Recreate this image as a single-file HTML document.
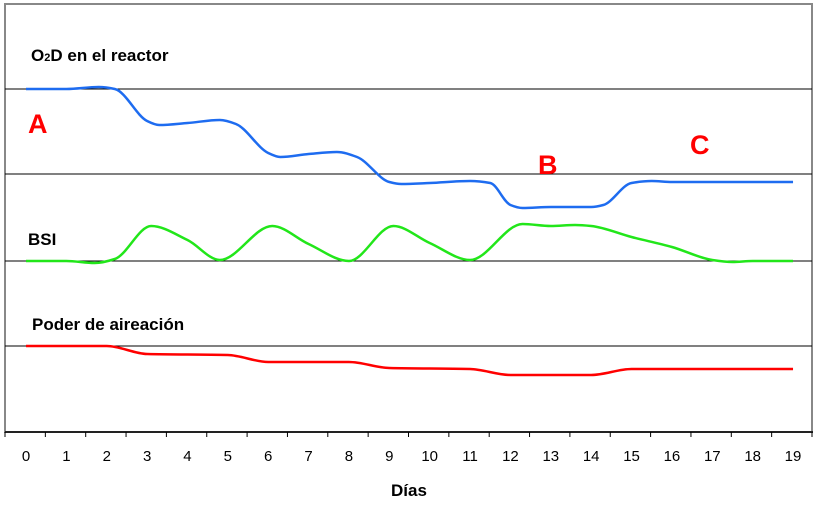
<!DOCTYPE html>
<html><head><meta charset="utf-8"><style>
body{margin:0;background:#fff}
svg text{font-family:"Liberation Sans",Arial,sans-serif}
</style></head><body>
<svg width="817" height="510">
<rect x="5" y="4" width="807" height="428" fill="#fff" stroke="#888" stroke-width="2"/>
<g id="refs"></g>
<g id="series"></g>
<g id="axis"></g>
<text x="31" y="61" font-size="17" font-weight="bold">O<tspan font-size="11">2</tspan>D en el reactor</text>
<text x="28" y="245" font-size="17" font-weight="bold">BSI</text>
<text x="32" y="330" font-size="17" font-weight="bold">Poder de aireación</text>
<text x="28" y="133" font-size="27" font-weight="bold" fill="#f00">A</text>
<text x="538" y="174" font-size="27" font-weight="bold" fill="#f00">B</text>
<text x="690" y="154" font-size="27" font-weight="bold" fill="#f00">C</text>
<text x="391" y="496" font-size="17" font-weight="bold">Días</text>
</svg>
<script>
const days=[0,1,2,3,4,5,6,7,8,9,10,11,12,13,14,15,16,17,18,19];
const o2dX=[0,1,1.8,2.2,3,3.3,4,4.8,5.2,6,6.3,7,7.7,8.2,9,9.3,10,11,11.5,12,12.3,13,14,14.3,15,15.5,16,19];
const o2dY=[89,89,87,89,121,125,123,120,124,153,157,154,152,157,182,184,183,181,183,205,208,207,207,205,183,181,182,182];
const bsiX=[0,1,1.7,2.2,3.1,4,4.8,6.1,7,8,9.1,10,11,12.3,13,13.6,14,15,16,17,17.5,18,19];
const bsiY=[261,261,263,259,226,240,260,226,244,261,226,243,260,224,226,225,226,237,247,260,262,261,261];
const airX=[0,2,3,5,6,8,9,11,12,14,15,19];
const airY=[346,346,354,355,362,362,368,369,375,375,369,369];
const refLines=[89,174,261,346];
const NS="http://www.w3.org/2000/svg";
const xS=d=>26+40.37*d;
const tickX=k=>5+40.35*k;
function path(xs,ys){
  const px=xs.map(xS),n=px.length;
  const del=[];for(let i=0;i<n-1;i++)del.push((ys[i+1]-ys[i])/(px[i+1]-px[i]));
  const m=[];
  for(let i=0;i<n;i++){
    if(i==0)m.push(0);else if(i==n-1)m.push(0);
    else{const a=del[i-1],b=del[i];m.push(a*b<=0?0:2*a*b/(a+b));}
  }
  let d=`M${px[0]},${ys[0]}`;
  for(let i=0;i<n-1;i++){
    const h=(px[i+1]-px[i])/3;
    d+=` C${px[i]+h},${ys[i]+m[i]*h} ${px[i+1]-h},${ys[i+1]-m[i+1]*h} ${px[i+1]},${ys[i+1]}`;
  }
  return d;
}
const refs=document.getElementById('refs');
refLines.forEach(y=>{
  const l=document.createElementNS(NS,'line');
  l.setAttribute('x1',5);l.setAttribute('x2',812);l.setAttribute('y1',y);l.setAttribute('y2',y);
  l.setAttribute('stroke','#000');l.setAttribute('stroke-width','1');
  
  
  refs.appendChild(l);
});
const ser=document.getElementById('series');
function addLine(xs,ys,color,name){
  const p=document.createElementNS(NS,'path');
  p.setAttribute('d',path(xs,ys));p.setAttribute('fill','none');
  p.setAttribute('stroke',color);p.setAttribute('stroke-width','2.5');
  
  
  ser.appendChild(p);
}
addLine(o2dX,o2dY,'#1e6cf0','o2d-line');
addLine(bsiX,bsiY,'#22e61a','bsi-line');
addLine(airX,airY,'#f00','aeration-line');
const ax=document.getElementById('axis');
const base=document.createElementNS(NS,'line');
base.setAttribute('x1',5);base.setAttribute('x2',813);base.setAttribute('y1',432);base.setAttribute('y2',432);
base.setAttribute('stroke','#000');base.setAttribute('stroke-width','1.5');


ax.appendChild(base);
for(let k=0;k<=20;k++){
  const t=document.createElementNS(NS,'line');
  t.setAttribute('x1',tickX(k));t.setAttribute('x2',tickX(k));t.setAttribute('y1',432);t.setAttribute('y2',437);
  t.setAttribute('stroke','#000');
  
  
  ax.appendChild(t);
}
days.forEach(d=>{
  const t=document.createElementNS(NS,'text');
  t.setAttribute('x',xS(d));t.setAttribute('y',461);t.setAttribute('text-anchor','middle');
  t.setAttribute('font-size','15');t.textContent=d;
  t.setAttribute('style','font-family:"Liberation Sans Narrow","Liberation Sans",sans-serif');
  
  
  ax.appendChild(t);
});
</script>
</body></html>
